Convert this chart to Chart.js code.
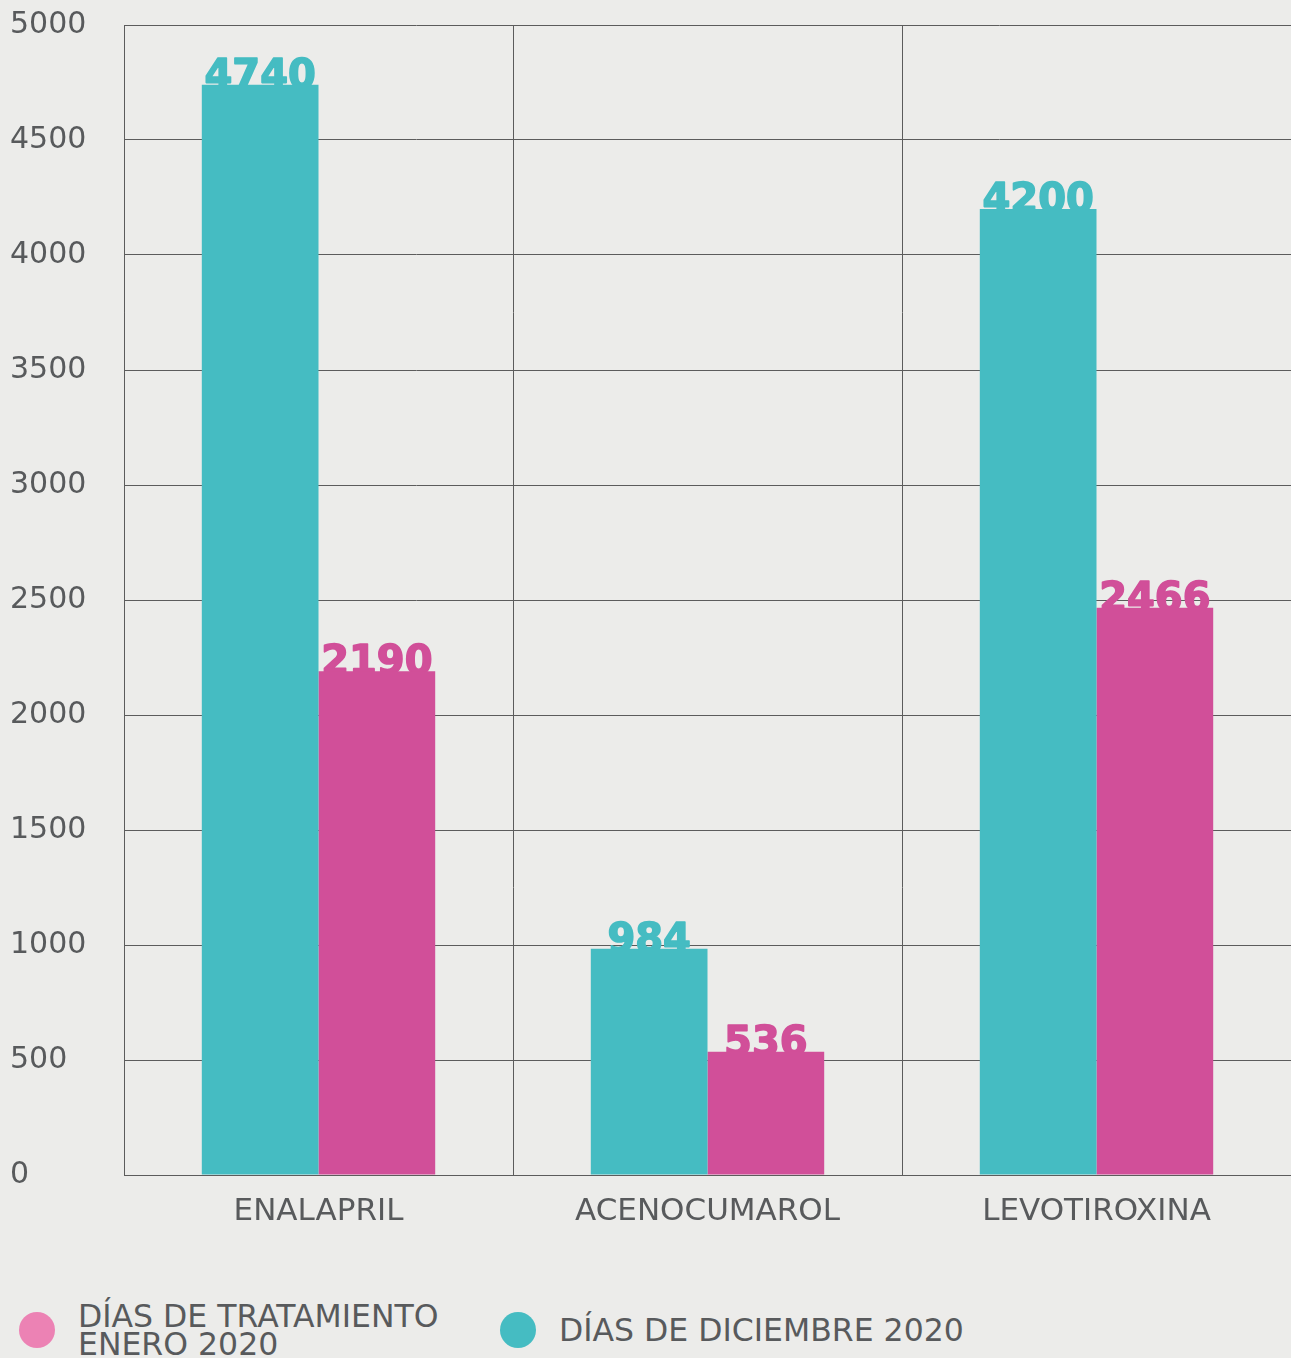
<!DOCTYPE html>
<html>
<head>
<meta charset="utf-8">
<script src="https://cdn.jsdelivr.net/npm/chart.js@4.4.1/dist/chart.umd.min.js"></script>
<style>
    html, body { margin: 0; padding: 0; background: #ECECEA; overflow: hidden; }
    #wrap { position: relative; width: 1291px; height: 1358px; }
    #forChart { position: absolute; left: 0; top: 0; width: 1291px; height: 1235px; }
    .legend-item { position: absolute; top: 1302px; height: 56px; display: flex; align-items: center;
        font-family: "DejaVu Sans", sans-serif; font-size: 31.5px; line-height: 28px; color: #585A5C; }
    .legend-dot { width: 36px; height: 36px; border-radius: 50%; margin-right: 23px; flex: none; }
    .legend-text { max-width: 410px; }
</style>
</head>
<body>
<div id="wrap">
    <div id="forChart"><canvas id="myChart"></canvas></div>
    <div id="legend"></div>
</div>
<script>
const categories = ['ENALAPRIL', 'ACENOCUMAROL', 'LEVOTIROXINA'];
const diciembre2020 = [4740, 984, 4200];
const enero2020 = [2190, 536, 2466];
const seriesNames = ['DÍAS DE DICIEMBRE 2020', 'DÍAS DE TRATAMIENTO ENERO 2020'];
const yTicks = [0, 500, 1000, 1500, 2000, 2500, 3000, 3500, 4000, 4500, 5000];

const teal = '#45BCC2';
const pink = '#D14F99';
const pinkLight = '#EC82B4';
const textGrey = '#585A5C';
const lineGrey = '#5C5C5C';

// numbers on top of the bars, drawn before the bars so the bar covers their bottom edge
const valueLabels = {
    id: 'valueLabels',
    beforeDatasetsDraw(chart) {
        const ctx = chart.ctx;
        ctx.save();
        ctx.font = 'bold 40px "DejaVu Sans"';
        ctx.textAlign = 'center';
        ctx.textBaseline = 'alphabetic';
        ctx.lineWidth = 1.6;
        ctx.lineJoin = 'round';
        chart.data.datasets.forEach(function(ds, i) {
            chart.getDatasetMeta(i).data.forEach(function(bar, j) {
                ctx.fillStyle = ds.backgroundColor;
                ctx.strokeStyle = ds.backgroundColor;
                ctx.fillText(ds.data[j], bar.x, bar.y + 3);
                ctx.strokeText(ds.data[j], bar.x, bar.y + 3);
            });
        });
        ctx.restore();
    }
};

window.onload = function() {
    makeBarChart('myChart');
};

function makeBarChart(element) {
    const data = {
        labels: categories,
        datasets: [{
            label: seriesNames[0],
            backgroundColor: teal,
            data: diciembre2020,
            legendColor: teal
        }, {
            label: seriesNames[1],
            backgroundColor: pink,
            data: enero2020,
            legendColor: pinkLight
        }]
    };

    const config = {
        type: 'bar',
        data: data,
        options: {
            responsive: true,
            maintainAspectRatio: false,
            animation: false,
            layout: { padding: { left: 10, top: 25, right: 0, bottom: 0 } },
            datasets: { bar: { categoryPercentage: 0.6, barPercentage: 1.0 } },
            plugins: {
                legend: { display: false },
                tooltip: { enabled: false }
            },
            scales: {
                x: {
                    grid: {
                        color: function(c) { return c.index === categories.length ? 'rgba(0,0,0,0)' : lineGrey; },
                        lineWidth: 1,
                        drawTicks: false
                    },
                    border: { color: lineGrey, width: 1 },
                    ticks: {
                        color: textGrey,
                        font: { family: 'DejaVu Sans', size: 31 },
                        padding: 18
                    },
                    afterFit: function(s) { s.height = 60; }
                },
                y: {
                    min: 0,
                    max: 5000,
                    afterBuildTicks: function(s) { s.ticks = yTicks.map(function(v) { return { value: v }; }); },
                    grid: { color: lineGrey, lineWidth: 1, drawTicks: false },
                    border: { color: lineGrey, width: 1 },
                    ticks: {
                        color: textGrey,
                        font: { family: 'DejaVu Sans', size: 30 },
                        crossAlign: 'far',
                        callback: function(v) { return String(v); }
                    },
                    afterFit: function(s) { s.width = 114; }
                }
            }
        },
        plugins: [valueLabels]
    };

    const myChart = new Chart(document.getElementById(element), config);

    // html legend, pink series first
    const legendLeft = [19, 500];
    let html = '';
    myChart.data.datasets.slice().reverse().forEach(function(ds, i) {
        html += '<div class="legend-item" style="left:' + legendLeft[i] + 'px">' +
            '<span class="legend-dot" style="background:' + ds.legendColor + '"></span>' +
            '<span class="legend-text">' + ds.label + '</span></div>';
    });
    document.getElementById('legend').innerHTML = html;
}
</script>
</body>
</html>
